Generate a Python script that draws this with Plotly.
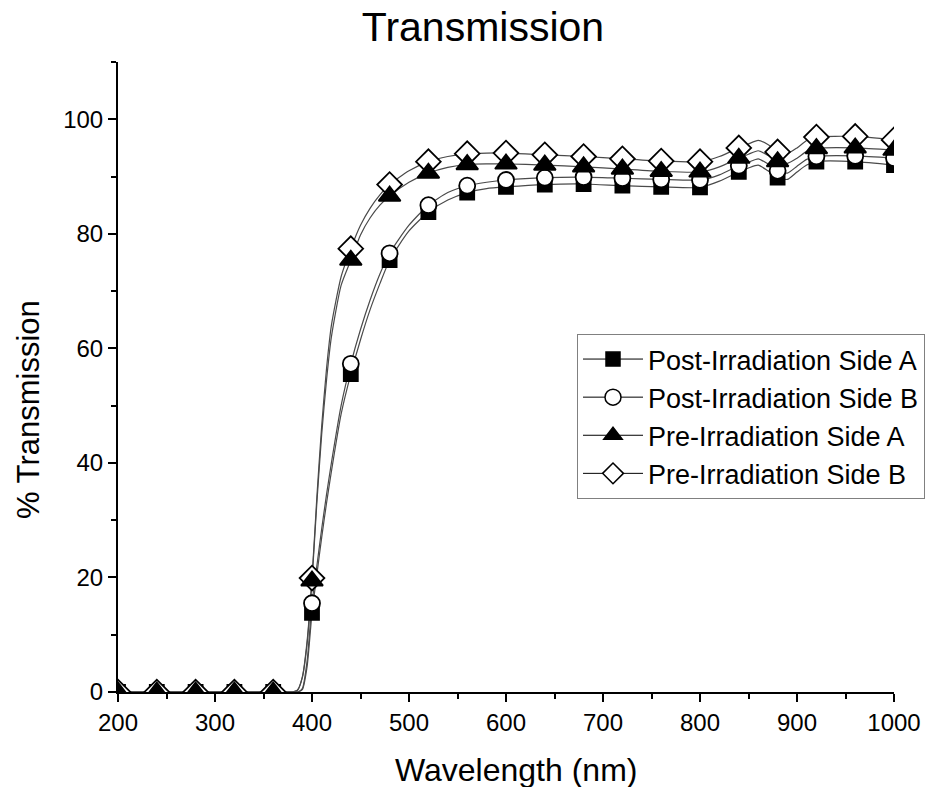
import plotly.graph_objects as go

# Marker wavelengths (nm) and measured % transmission at those points
wl_markers = [200, 240, 280, 320, 360, 400, 440, 480, 520, 560, 600, 640,
              680, 720, 760, 800, 840, 880, 920, 960, 1000]
post_a = [0, 0, 0, 0, 0, 13.8, 55.5, 75.4, 83.8, 87.2, 88.2, 88.6, 88.7,
          88.4, 88.2, 88.1, 90.8, 89.8, 92.6, 92.6, 92.0]
post_b = [0, 0, 0, 0, 0, 15.5, 57.3, 76.6, 85.0, 88.4, 89.4, 89.8, 89.9,
          89.7, 89.5, 89.4, 91.9, 91.0, 93.5, 93.6, 93.2]
pre_a = [0, 0, 0, 0, 0, 19.4, 75.4, 86.6, 90.6, 92.1, 92.2, 92.0, 91.7,
         91.3, 90.9, 90.8, 93.2, 92.6, 94.9, 95.0, 94.6]
pre_b = [0, 0, 0, 0, 0, 19.9, 77.4, 88.6, 92.6, 94.0, 94.1, 93.8, 93.5,
         93.1, 92.7, 92.6, 95.0, 94.3, 96.9, 97.0, 96.4]

# Full spectra (finer wavelength sampling) drawn as the thin curves
wl_line = [200, 360, 380, 385, 390, 395, 400, 405, 410, 415, 420, 430, 440,
           450, 460, 470, 480, 500, 520, 540, 560, 580, 600, 640, 680, 720,
           760, 800, 820, 840, 850, 860, 870, 880, 890, 900, 910, 920, 960, 1000]
post_a_line = [0, 0, 0, 0, 0.4, 4.5, 13.8, 20.5, 27.0, 33.0, 38.5, 48.5, 55.5,
               61.5, 66.8, 71.3, 75.4, 80.5, 83.8, 85.9, 87.2, 87.9, 88.2,
               88.6, 88.7, 88.4, 88.2, 88.1, 89.2, 90.8, 91.5, 92.0, 91.0,
               89.8, 89.5, 90.8, 92.0, 92.6, 92.6, 92.0]
post_b_line = [0, 0, 0, 0, 0.6, 5.5, 15.5, 22.0, 28.5, 34.5, 40.0, 50.0, 57.3,
               63.3, 68.5, 73.0, 76.6, 81.5, 85.0, 87.2, 88.4, 89.0, 89.4,
               89.8, 89.9, 89.7, 89.5, 89.4, 90.3, 91.9, 92.5, 93.1, 92.2,
               91.0, 90.6, 91.8, 93.0, 93.5, 93.6, 93.2]
pre_a_line = [0, 0, 0, 0.3, 2.5, 8.5, 19.4, 33.0, 45.0, 54.5, 62.0, 71.0, 75.4,
              79.8, 82.8, 85.0, 86.6, 89.0, 90.6, 91.6, 92.1, 92.2, 92.2,
              92.0, 91.7, 91.3, 90.9, 90.8, 91.7, 93.2, 93.9, 94.5, 93.7,
              92.6, 92.3, 93.2, 94.4, 94.9, 95.0, 94.6]
pre_b_line = [0, 0, 0, 0.3, 2.6, 9.0, 19.9, 34.0, 46.5, 56.5, 64.0, 72.5, 77.4,
              81.5, 84.5, 86.8, 88.6, 91.0, 92.6, 93.5, 94.0, 94.1, 94.1,
              93.8, 93.5, 93.1, 92.7, 92.6, 93.5, 95.0, 95.7, 96.3, 95.6,
              94.3, 94.0, 95.0, 96.3, 96.9, 97.0, 96.4]

names = ["Post-Irradiation Side A", "Post-Irradiation Side B",
         "Pre-Irradiation Side A", "Pre-Irradiation Side B"]

FONT = "Liberation Sans, Arial, sans-serif"
LINE_COLOR = "#4a4a4a"

series = {
    "post_a": dict(name=names[0], y=post_a, line=post_a_line, symbol="square",
                   size=14, fill="black"),
    "post_b": dict(name=names[1], y=post_b, line=post_b_line, symbol="circle",
                   size=16, fill="white"),
    "pre_a": dict(name=names[2], y=pre_a, line=pre_a_line, symbol="triangle-up",
                  size=19, fill="black"),
    "pre_b": dict(name=names[3], y=pre_b, line=pre_b_line, symbol="diamond",
                  size=19, fill="white"),
}

fig = go.Figure()

# Thin spectral curves first, so the markers sit on top of them
for key in ["post_a", "post_b", "pre_a", "pre_b"]:
    s = series[key]
    fig.add_trace(go.Scatter(
        x=wl_line, y=s["line"], mode="lines",
        line=dict(color=LINE_COLOR, width=1.2, shape="spline", smoothing=0.6),
        showlegend=False, hoverinfo="skip"))

# Symbols every 40 nm (drawing order: squares, circles, diamonds, triangles)
for key in ["post_a", "post_b", "pre_b", "pre_a"]:
    s = series[key]
    fig.add_trace(go.Scatter(
        x=wl_markers, y=s["y"], mode="markers",
        marker=dict(symbol=s["symbol"], size=s["size"], color=s["fill"],
                    line=dict(color="black", width=1.8)),
        showlegend=False, name=s["name"]))

# Legend entries: line with symbol
for key in ["post_a", "post_b", "pre_a", "pre_b"]:
    s = series[key]
    fig.add_trace(go.Scatter(
        x=[None], y=[None], mode="lines+markers", name=s["name"],
        line=dict(color="black", width=1),
        marker=dict(symbol=s["symbol"], size=s["size"], color=s["fill"],
                    line=dict(color="black", width=1.5))))

axis_common = dict(
    showline=True, linecolor="black", linewidth=2, mirror=False,
    ticks="outside", ticklen=8, tickwidth=2, tickcolor="black",
    showgrid=False, zeroline=False,
    tickfont=dict(family=FONT, size=24, color="black"),
)

fig.update_layout(
    width=949, height=787,
    paper_bgcolor="white", plot_bgcolor="white",
    margin=dict(l=118, r=55, t=62, b=95, autoexpand=False),
    font=dict(family=FONT, color="black"),
    title=dict(text="Transmission", x=483 / 949, xref="container",
               xanchor="center", y=1 - 27 / 787, yref="container",
               yanchor="middle", font=dict(family=FONT, size=41, color="black")),
    xaxis=dict(range=[200, 1000], dtick=100, tick0=200,
               minor=dict(dtick=50, ticklen=5, tickwidth=2, ticks="outside",
                          tickcolor="black"),
               **axis_common),
    yaxis=dict(range=[0, 110], dtick=20, tick0=0,
               minor=dict(dtick=10, ticklen=5, tickwidth=2, ticks="outside",
                          tickcolor="black"),
               **axis_common),
    annotations=[
        dict(text="Wavelength (nm)", xref="paper", yref="paper",
             x=(516 - 118) / 776, y=(692 - 770) / 630, xanchor="center",
             yanchor="middle", showarrow=False,
             font=dict(family=FONT, size=32, color="black")),
        dict(text="% Transmission", xref="paper", yref="paper",
             x=(28 - 118) / 776, y=(692 - 410) / 630, xanchor="center",
             yanchor="middle", textangle=-90, showarrow=False,
             font=dict(family=FONT, size=31, color="black")),
    ],
    legend=dict(x=(577 - 118) / 776, y=(692 - 334) / 630, xanchor="left",
                yanchor="top", bgcolor="white", bordercolor="#808080",
                borderwidth=1, font=dict(family=FONT, size=27, color="black"),
                itemwidth=60, traceorder="normal"),
    showlegend=True,
)

fig.write_html("out.html")
